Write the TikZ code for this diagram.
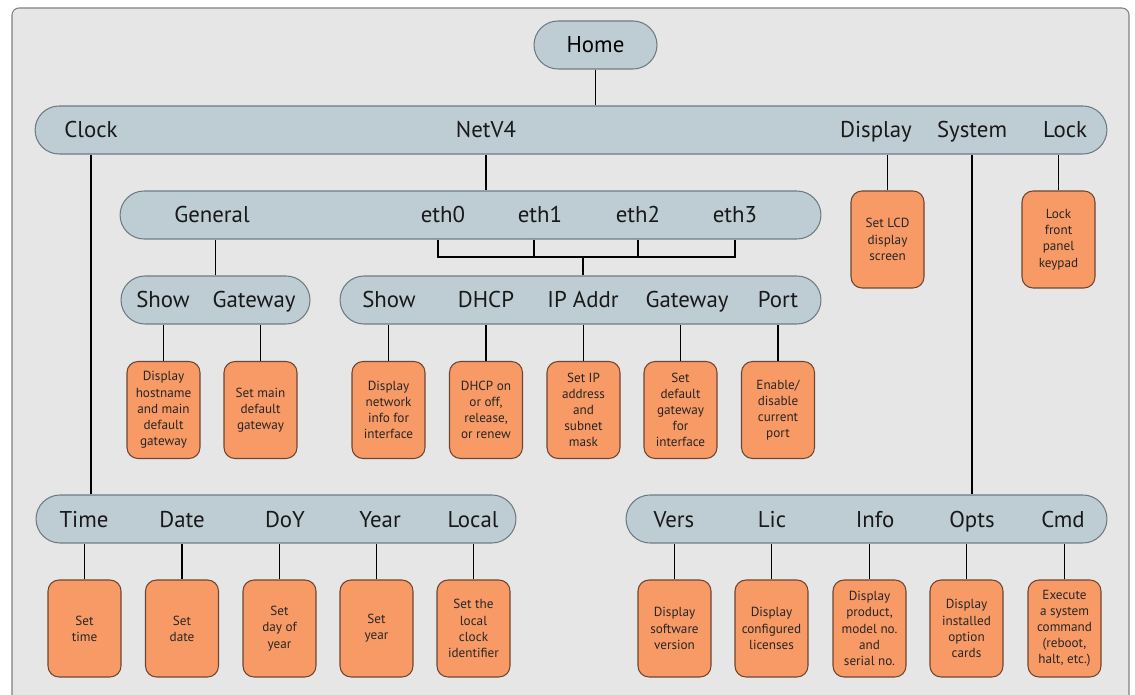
\documentclass[tikz,border=0pt]{standalone}
\usepackage{fontspec}
\setmainfont{PT Sans}
\usetikzlibrary{positioning}

\definecolor{panelgray}{HTML}{E6E6E6}
\definecolor{panelline}{HTML}{808080}
\definecolor{barblue}{HTML}{BECCD4}
\definecolor{barline}{HTML}{6E7B82}
\definecolor{actorange}{HTML}{F89A66}
\definecolor{actline}{HTML}{6E4630}

\tikzset{
  panel/.style={draw=panelline, fill=panelgray, rounded corners=0.14cm, line width=0.6pt},
  menu/.style={draw=barline, fill=barblue, rounded corners=0.48cm, minimum height=0.96cm,
    inner sep=0pt, line width=0.6pt, font=\fontsize{13}{15}\selectfont},
  lbl/.style={anchor=base, inner sep=0pt, text=black!90, font=\fontsize{13}{15}\selectfont},
  act/.style={draw=actline, fill=actorange, rounded corners=0.22cm, minimum width=1.46cm,
    minimum height=1.94cm, align=center, inner sep=1pt, line width=0.6pt,
    text=black!85, font=\fontsize{7.5}{9.2}\selectfont},
  link/.style={line width=0.9pt}
}

\begin{document}
\begin{tikzpicture}[x=0.02cm, y=-0.02cm]
\useasboundingbox (0,0) rectangle (1135,695);
\clip (0,0) rectangle (1135,695);
\draw[panel] (12,8) rectangle (1129,730);

% menu bars
\node[menu, minimum width=2.46cm] (home) at (595.5,45) {Home};
\node[menu, minimum width=21.44cm] (topbar) at (571,130) {};
\node[menu, minimum width=14.02cm] (netbar) at (470.5,215) {};
\node[menu, minimum width=3.78cm] (genbar) at (215.5,300) {};
\node[menu, minimum width=9.62cm] (ethbar) at (580.5,300) {};
\node[menu, minimum width=9.6cm] (clkbar) at (276,519) {};
\node[menu, minimum width=9.62cm] (sysbar) at (866.5,519) {};

% top level entries
\node[lbl] (clock) at (91,138) {Clock};
\node[lbl] (netv4) at (486,138) {NetV4};
\node[lbl] (display) at (876,138) {Display};
\node[lbl] (system) at (972,138) {System};
\node[lbl] (lock) at (1065,138) {Lock};

% NetV4 entries
\node[lbl] (general) at (212,223) {General};
\node[lbl] (eth0) at (443,223) {eth0};
\node[lbl] (eth1) at (540,223) {eth1};
\node[lbl] (eth2) at (638,223) {eth2};
\node[lbl] (eth3) at (735,223) {eth3};

\node[lbl] (genshow) at (163,308) {Show};
\node[lbl] (gengw) at (254,308) {Gateway};

\node[lbl] (ethshow) at (389,308) {Show};
\node[lbl] (dhcp) at (486,308) {DHCP};
\node[lbl] (ipaddr) at (583,308) {IP Addr};
\node[lbl] (ethgw) at (687,308) {Gateway};
\node[lbl] (port) at (778,308) {Port};

% Clock and System entries
\node[lbl] (time) at (84,527) {Time};
\node[lbl] (date) at (182,527) {Date};
\node[lbl] (doy) at (285,527) {DoY};
\node[lbl] (year) at (380,527) {Year};
\node[lbl] (local) at (473,527) {Local};

\node[lbl] (vers) at (674,527) {Vers};
\node[lbl] (lic) at (772,527) {Lic};
\node[lbl] (info) at (875,527) {Info};
\node[lbl] (opts) at (972,527) {Opts};
\node[lbl] (cmd) at (1063,527) {Cmd};

% actions
\node[act] (lcd) at (887.5,239.5) {Set LCD\\display\\screen};
\node[act] (keypad) at (1058.5,239.5) {Lock\\front\\panel\\keypad};

\node[act] (hostbox) at (163.5,410) {Display\\hostname\\and main\\default\\gateway};
\node[act] (maingw) at (260.5,410) {Set main\\default\\gateway};

\node[act] (netinfo) at (388.5,410) {Display\\network\\info for\\interface};
\node[act] (dhcpbox) at (486,410) {DHCP on\\or off,\\release,\\or renew};
\node[act] (ipbox) at (583.5,410) {Set IP\\address\\and\\subnet\\mask};
\node[act] (ifgw) at (680.5,410) {Set\\default\\gateway\\for\\interface};
\node[act] (portbox) at (778,410) {Enable/\\disable\\current\\port};

\node[act] (settime) at (84.5,628.5) {Set\\time};
\node[act] (setdate) at (182,628.5) {Set\\date};
\node[act] (setdoy) at (279.5,628.5) {Set\\day of\\year};
\node[act] (setyear) at (376.5,628.5) {Set\\year};
\node[act] (setlocal) at (473.5,628.5) {Set the\\local\\clock\\identifier};

\node[act] (swvers) at (674.5,628.5) {Display\\software\\version};
\node[act] (licbox) at (771.5,628.5) {Display\\configured\\licenses};
\node[act] (prodbox) at (869.5,628.5) {Display\\product,\\model no.\\and\\serial no.};
\node[act] (cards) at (966.5,628.5) {Display\\installed\\option\\cards};
\node[act] (cmdbox) at (1064.5,628.5) {Execute\\a system\\command\\(reboot,\\halt, etc.)};

% links
\draw[link] (home.south) -- (home.south |- topbar.north);
\draw[link] (clock.center |- topbar.south) -- (clock.center |- clkbar.north);
\draw[link] (netv4.center |- topbar.south) -- (netv4.center |- netbar.north);
\draw[link] (system.center |- topbar.south) -- (system.center |- sysbar.north);
\draw[link] (lcd.north) -- (lcd.north |- topbar.south);
\draw[link] (keypad.north) -- (keypad.north |- topbar.south);

\draw[link] (genbar.north) -- (genbar.north |- netbar.south);
\coordinate (ethjoin) at (583,257);
\draw[link] (438,257 |- netbar.south) -- (438,257) -- (735,257) -- (735,257 |- netbar.south);
\draw[link] (534,257 |- netbar.south) -- (534,257);
\draw[link] (638,257 |- netbar.south) -- (638,257);
\draw[link] (ethjoin) -- (ethjoin |- ethbar.north);

\draw[link] (hostbox.north) -- (hostbox.north |- genbar.south);
\draw[link] (maingw.north) -- (maingw.north |- genbar.south);
\draw[link] (netinfo.north) -- (netinfo.north |- ethbar.south);
\draw[link] (dhcpbox.north) -- (dhcpbox.north |- ethbar.south);
\draw[link] (ipbox.north) -- (ipbox.north |- ethbar.south);
\draw[link] (ifgw.north) -- (ifgw.north |- ethbar.south);
\draw[link] (portbox.north) -- (portbox.north |- ethbar.south);

\draw[link] (settime.north) -- (settime.north |- clkbar.south);
\draw[link] (setdate.north) -- (setdate.north |- clkbar.south);
\draw[link] (setdoy.north) -- (setdoy.north |- clkbar.south);
\draw[link] (setyear.north) -- (setyear.north |- clkbar.south);
\draw[link] (setlocal.north) -- (setlocal.north |- clkbar.south);

\draw[link] (swvers.north) -- (swvers.north |- sysbar.south);
\draw[link] (licbox.north) -- (licbox.north |- sysbar.south);
\draw[link] (prodbox.north) -- (prodbox.north |- sysbar.south);
\draw[link] (cards.north) -- (cards.north |- sysbar.south);
\draw[link] (cmdbox.north) -- (cmdbox.north |- sysbar.south);
\end{tikzpicture}
\end{document}
